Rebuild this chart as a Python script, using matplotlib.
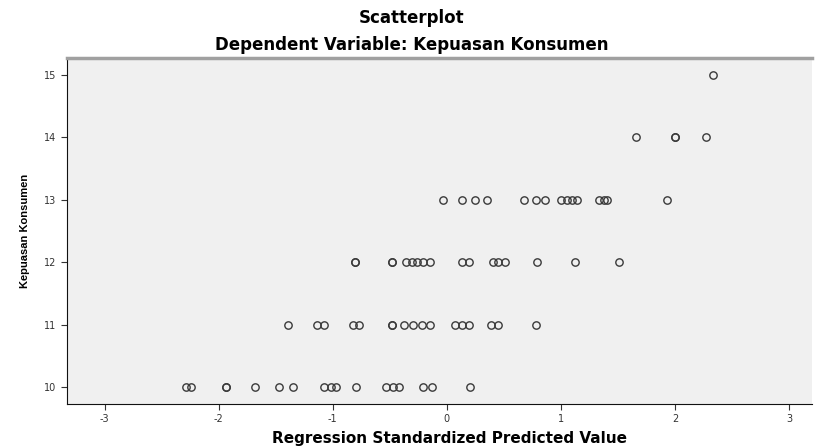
import numpy as np
import matplotlib.pyplot as plt

plt.rcParams['axes.unicode_minus'] = False

# values (x = standardized predicted value, y = score)
x_10 = [-2.29, -2.24, -1.94, -1.94, -1.68, -1.47, -1.35, -1.08, -1.02, -0.97,
        -0.80, -0.53, -0.47, -0.42, -0.21, -0.13, 0.20]
x_11 = [-1.39, -1.14, -1.08, -0.82, -0.77, -0.48, -0.48, -0.38, -0.30, -0.22,
        -0.15, 0.07, 0.13, 0.19, 0.39, 0.45, 0.78]
x_12 = [-0.81, -0.81, -0.48, -0.48, -0.36, -0.31, -0.26, -0.21, -0.15, 0.13,
        0.19, 0.40, 0.45, 0.51, 0.79, 1.12, 1.51]
x_13 = [-0.03, 0.13, 0.25, 0.35, 0.68, 0.78, 0.86, 1.00, 1.05, 1.10, 1.14,
        1.33, 1.38, 1.40, 1.93]
x_14 = [1.66, 2.00, 2.00, 2.27]
x_15 = [2.33]

groups = [(10, x_10), (11, x_11), (12, x_12), (13, x_13), (14, x_14), (15, x_15)]

fig = plt.figure(figsize=(8.17, 4.48), dpi=100)
ax = fig.add_axes([67/817, 1 - 404/448, 745/817, 346/448])
ax.set_facecolor('#f0f0f0')

for yv, xs in groups:
    ax.plot(xs, [yv] * len(xs), linestyle='none', marker='o', markersize=5.3,
            markerfacecolor='none', markeredgecolor='#3a3a3a', markeredgewidth=1.0)

ax.set_xlim(-3.33, 3.20)
ax.set_ylim(9.73, 15.27)
ax.set_xticks([-3, -2, -1, 0, 1, 2, 3])
ax.set_yticks([10, 11, 12, 13, 14, 15])
ax.tick_params(axis='both', labelsize=7, colors='#333333', length=4, width=0.8)

ax.spines['right'].set_visible(False)
ax.spines['top'].set_color('#a0a0a0')
ax.spines['top'].set_linewidth(2.5)
ax.spines['left'].set_color('#111111')
ax.spines['bottom'].set_color('#111111')

ax.set_ylabel('Kepuasan Konsumen', fontsize=8, fontweight='bold',
              family='Liberation Sans', labelpad=10)

fig.text(450/817, 1 - 438/448, 'Regression Standardized Predicted Value',
         ha='center', va='center', fontsize=11, fontweight='bold', family='DejaVu Sans')
fig.text(412/817, 1 - 18/448, 'Scatterplot', ha='center', va='center',
         fontsize=12, fontweight='bold', family='DejaVu Sans')
fig.text(412/817, 1 - 45/448, 'Dependent Variable: Kepuasan Konsumen', ha='center',
         va='center', fontsize=12, fontweight='bold', family='DejaVu Sans')

fig.savefig('out.png', dpi=100)
